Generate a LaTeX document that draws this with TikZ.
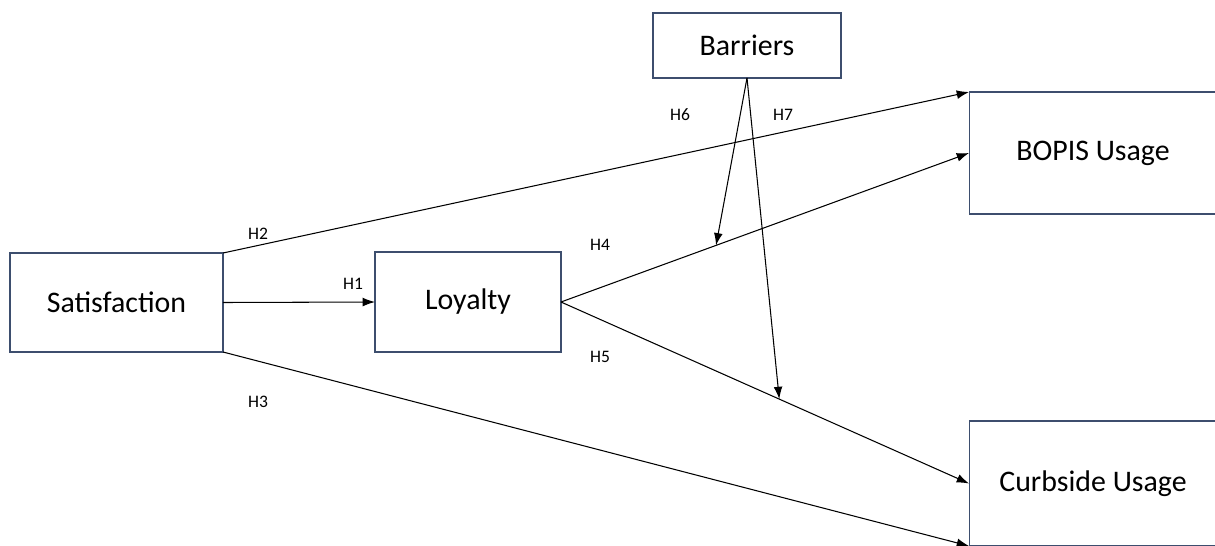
\documentclass[tikz,border=0pt]{standalone}
\usepackage{fontspec}
\setmainfont{Carlito}
\usetikzlibrary{arrows.meta}
\definecolor{boxcol}{RGB}{61,78,110}

\begin{document}
\begin{tikzpicture}[x=0.02cm, y=-0.02cm,
        box/.style ={draw=boxcol, line width=0.6pt, inner sep=0pt, outer sep=0pt,
                     font=\fontsize{17}{20}\selectfont},
        sarr/.style={-{Latex[length=7pt,width=5pt]}, line width=0.6pt},
        lbl/.style ={font=\fontsize{10}{12}\selectfont, inner sep=1pt},]

    \useasboundingbox (0,0) rectangle (1215,545);
    \clip (0,0) rectangle (1215,545);

    \node[box, minimum width=4.26cm, minimum height=1.98cm] (sat) at (116.5,302.5)
        {Satisfaction};
    \node[box, minimum width=3.72cm, minimum height=2.00cm] (loy) at (468,302)
        {Loyalty};
    \node[box, minimum width=3.76cm, minimum height=1.30cm] (bar) at (747,45.5)
        {Barriers};
    \node[box, minimum width=4.96cm, minimum height=2.44cm] (bop) at (1093,153)
        {BOPIS Usage};
    \node[box, minimum width=4.96cm, minimum height=2.50cm] (cur) at (1093,483.5)
        {Curbside Usage};

    \draw[sarr] (sat.east) -- (loy.west);
    \draw[sarr] (sat.north east) -- (bop.north west);
    \draw[sarr] (sat.south east) -- (cur.south west);
    \draw[sarr] (loy.east) -- (bop.west)
        coordinate[pos=0.38] (m4);
    \draw[sarr] (loy.east) -- (cur.west)
        coordinate[pos=0.535] (m5);

    \draw[sarr] (bar.south) -- (m4);
    \draw[sarr] (bar.south) -- (m5);

    \node[lbl] (h1) at (353,284) {H1};
    \node[lbl] (h2) at (258,234) {H2};
    \node[lbl] (h3) at (258,402) {H3};
    \node[lbl] (h4) at (600,245) {H4};
    \node[lbl] (h5) at (600,357) {H5};
    \node[lbl] (h6) at (680,115) {H6};
    \node[lbl] (h7) at (783,115) {H7};
\end{tikzpicture}
\end{document}
